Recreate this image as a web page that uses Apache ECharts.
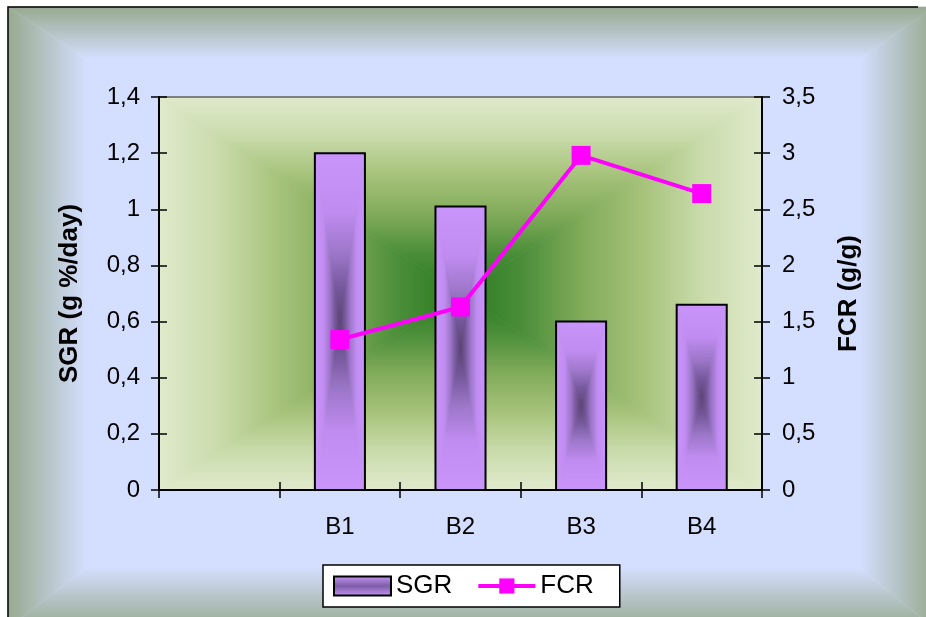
<!DOCTYPE html>
<html>
<head>
<meta charset="utf-8">
<script src="https://cdn.jsdelivr.net/npm/echarts@6/dist/echarts.min.js"></script>
<style>
  html, body { margin: 0; padding: 0; background: #fff; }
  #chart { width: 926px; height: 617px; }
</style>
</head>
<body>
<div id="chart"></div>
<script>
// ---- data ----
const CATEGORIES = ['', 'B1', 'B2', 'B3', 'B4'];
const SGR = [null, 1.2, 1.01, 0.6, 0.66];      // g %/day
const FCR = [null, 1.34, 1.63, 2.98, 2.64];    // g/g
const SGR_AXIS = { min: 0, max: 1.4, interval: 0.2 };
const FCR_AXIS = { min: 0, max: 3.5, interval: 0.5 };

// ---- layout & style ----
const GRID = { left: 159, top: 97, width: 603, height: 393 };
const FONT = '"Liberation Sans", Arial, sans-serif';
const BAR_RATIO = 0.415;

const FRAME = { x0: 8, y0: 7, x1: 934, y1: 628, left: 78, top: 52, right: 74, bottom: 60 };
const FRAME_EDGE = '#97aa8f';
const FRAME_INNER = '#d4defe';

const PLOT_STOPS = [
  { offset: 0, color: '#e0eacc' },
  { offset: 0.2, color: '#c9dbab' },
  { offset: 0.4, color: '#a6c27a' },
  { offset: 0.6, color: '#80ab59' },
  { offset: 0.8, color: '#4a8d38' },
  { offset: 1, color: '#287a1f' }
];
const BAR_STOPS = [
  { offset: 0, color: '#ca95fb' },
  { offset: 0.35, color: '#c08cf1' },
  { offset: 0.6, color: '#9c76c8' },
  { offset: 0.8, color: '#76589c' },
  { offset: 1, color: '#5b4274' }
];

function comma(v) {
  return String(parseFloat(Number(v).toFixed(2))).replace('.', ',');
}

function linear(ax, ay, bx, by, stops) {
  return { type: 'linear', x: ax, y: ay, x2: bx, y2: by, global: true, colorStops: stops };
}

// "from centre" rectangle gradient: four triangles meeting in the middle
function rectGradient(x0, y0, x1, y1, stops, extra) {
  const cx = (x0 + x1) / 2, cy = (y0 + y1) / 2;
  const tri = (pts, fill) => Object.assign({
    type: 'polygon',
    shape: { points: pts },
    style: { fill: fill, stroke: fill, lineWidth: 0.6 }
  }, extra || {});
  return [
    tri([[x0, y0], [x1, y0], [cx, cy]], linear(cx, y0, cx, cy, stops)),
    tri([[x0, y1], [x1, y1], [cx, cy]], linear(cx, y1, cx, cy, stops)),
    tri([[x0, y0], [x0, y1], [cx, cy]], linear(x0, cy, cx, cy, stops)),
    tri([[x1, y0], [x1, y1], [cx, cy]], linear(x1, cy, cx, cy, stops))
  ];
}

// page frame: light centre fading to grey-green along the edges
function frameElements() {
  const f = FRAME;
  const st = [{ offset: 0, color: FRAME_EDGE }, { offset: 1, color: FRAME_INNER }];
  const ix0 = f.x0 + f.left, iy0 = f.y0 + f.top, ix1 = f.x1 - f.right, iy1 = f.y1 - f.bottom;
  const band = (pts, fill) => ({ type: 'polygon', z: -10, shape: { points: pts }, style: { fill: fill, stroke: fill, lineWidth: 0.6 } });
  return [
    { type: 'rect', z: -10, shape: { x: ix0, y: iy0, width: ix1 - ix0, height: iy1 - iy0 }, style: { fill: FRAME_INNER } },
    band([[f.x0, f.y0], [f.x1, f.y0], [ix1, iy0], [ix0, iy0]], linear(0, f.y0, 0, iy0, st)),
    band([[f.x0, f.y1], [f.x1, f.y1], [ix1, iy1], [ix0, iy1]], linear(0, f.y1, 0, iy1, st)),
    band([[f.x0, f.y0], [f.x0, f.y1], [ix0, iy1], [ix0, iy0]], linear(f.x0, 0, ix0, 0, st)),
    band([[f.x1, f.y0], [f.x1, f.y1], [ix1, iy1], [ix1, iy0]], linear(f.x1, 0, ix1, 0, st)),
    { type: 'polyline', z: -9, shape: { points: [[f.x0, f.y1], [f.x0, f.y0], [918, f.y0]] }, style: { stroke: '#000', lineWidth: 1.5, fill: null } }
  ];
}

function plotElements() {
  const x0 = GRID.left, y0 = GRID.top, x1 = GRID.left + GRID.width, y1 = GRID.top + GRID.height;
  return rectGradient(x0, y0, x1, y1, PLOT_STOPS, { z: -5 }).concat([
    { type: 'line', z: -4, shape: { x1: x0, y1: y0, x2: x1, y2: y0 }, style: { stroke: '#808080', lineWidth: 2 } }
  ]);
}

function renderBar(params, api) {
  const v = api.value(1);
  if (v == null || isNaN(v)) return;
  const top = api.coord([api.value(0), v]);
  const base = api.coord([api.value(0), 0]);
  const bw = api.size([1, 0])[0] * BAR_RATIO;
  const x0 = top[0] - bw / 2, x1 = top[0] + bw / 2, y0 = top[1], y1 = base[1];
  const children = rectGradient(x0, y0, x1, y1, BAR_STOPS);
  children.push({
    type: 'rect',
    shape: { x: x0, y: y0, width: x1 - x0, height: y1 - y0 },
    style: { fill: null, stroke: '#000', lineWidth: 2 }
  });
  return { type: 'group', children: children };
}

const labelStyle = { color: '#000', fontSize: 24, fontFamily: FONT };
const nameStyle = { color: '#000', fontSize: 26, fontWeight: 'bold', fontFamily: FONT };
const blackLine = { show: true, lineStyle: { color: '#000', width: 2 } };

function valueAxis(range, extra) {
  return Object.assign({
    type: 'value',
    min: range.min, max: range.max, interval: range.interval,
    splitLine: { show: false },
    z: 10
  }, extra);
}

const option = {
  animation: false,
  backgroundColor: '#fff',
  graphic: { elements: frameElements().concat(plotElements()) },
  grid: [
    Object.assign({ outerBoundsMode: 'none' }, GRID),
    Object.assign({ outerBoundsMode: 'none' }, GRID)
  ],
  legend: {
    left: 323, top: 565,
    padding: [8, 26, 8, 10],
    itemGap: 24,
    itemWidth: 57, itemHeight: 19,
    backgroundColor: '#fff',
    borderColor: '#000', borderWidth: 1.5, borderRadius: 0,
    textStyle: { color: '#000', fontSize: 26, fontFamily: FONT },
    data: [
      { name: 'SGR', icon: 'rect' },
      { name: 'FCR', lineStyle: { width: 4, color: '#ff00ff' } }
    ]
  },
  xAxis: [
    {
      type: 'category', gridIndex: 0, data: CATEGORIES, z: 10,
      axisLine: blackLine,
      axisTick: { show: true, length: 8, lineStyle: { color: '#000', width: 1.5 } },
      axisLabel: Object.assign({ margin: 25 }, labelStyle)
    },
    {
      type: 'category', gridIndex: 1, data: CATEGORIES, z: 10,
      axisLine: { show: false },
      axisTick: { show: true, inside: true, length: 8, lineStyle: { color: '#000', width: 1.5 } },
      axisLabel: { show: false }
    }
  ],
  yAxis: [
    valueAxis(SGR_AXIS, {
      gridIndex: 0, position: 'left',
      name: 'SGR (g %/day)', nameLocation: 'middle', nameRotate: 90, nameGap: 76,
      nameTextStyle: nameStyle, nameMoveOverlap: false,
      axisLine: blackLine,
      axisTick: { show: true, length: 8, lineStyle: { color: '#000', width: 1.5 } },
      axisLabel: Object.assign({ margin: 19, formatter: comma }, labelStyle)
    }),
    valueAxis(FCR_AXIS, {
      gridIndex: 0, position: 'right',
      name: 'FCR (g/g)', nameLocation: 'middle', nameRotate: 90, nameGap: 74,
      nameTextStyle: nameStyle, nameMoveOverlap: false,
      axisLine: blackLine,
      axisTick: { show: true, length: 8, lineStyle: { color: '#000', width: 1.5 } },
      axisLabel: Object.assign({ margin: 20, formatter: comma }, labelStyle)
    }),
    valueAxis(SGR_AXIS, {
      gridIndex: 1, position: 'left',
      axisLine: { show: false },
      axisTick: { show: true, inside: true, length: 8, lineStyle: { color: '#000', width: 1.5 } },
      axisLabel: { show: false }
    }),
    valueAxis(FCR_AXIS, {
      gridIndex: 1, position: 'right',
      axisLine: { show: false },
      axisTick: { show: true, inside: true, length: 8, lineStyle: { color: '#000', width: 1.5 } },
      axisLabel: { show: false }
    })
  ],
  series: [
    {
      name: 'SGR',
      type: 'custom',
      xAxisIndex: 0, yAxisIndex: 0,
      z: 4,
      renderItem: renderBar,
      encode: { x: 0, y: 1 },
      itemStyle: {
        color: {
          type: 'linear', x: 0, y: 0, x2: 0, y2: 1,
          colorStops: [
            { offset: 0, color: '#c995fb' },
            { offset: 0.5, color: '#7d5ea6' },
            { offset: 1, color: '#c995fb' }
          ]
        },
        borderColor: '#000', borderWidth: 1.5
      },
      data: CATEGORIES.map((c, i) => [i, SGR[i]]).filter(d => d[1] != null)
    },
    {
      name: 'FCR',
      type: 'line',
      xAxisIndex: 0, yAxisIndex: 1,
      z: 5,
      data: FCR,
      symbol: 'rect',
      symbolSize: 19,
      itemStyle: { color: '#ff00ff' },
      lineStyle: { color: '#ff00ff', width: 4 }
    }
  ]
};

const chart = echarts.init(document.getElementById('chart'), null, { renderer: 'canvas' });
chart.setOption(option);
</script>
</body>
</html>
